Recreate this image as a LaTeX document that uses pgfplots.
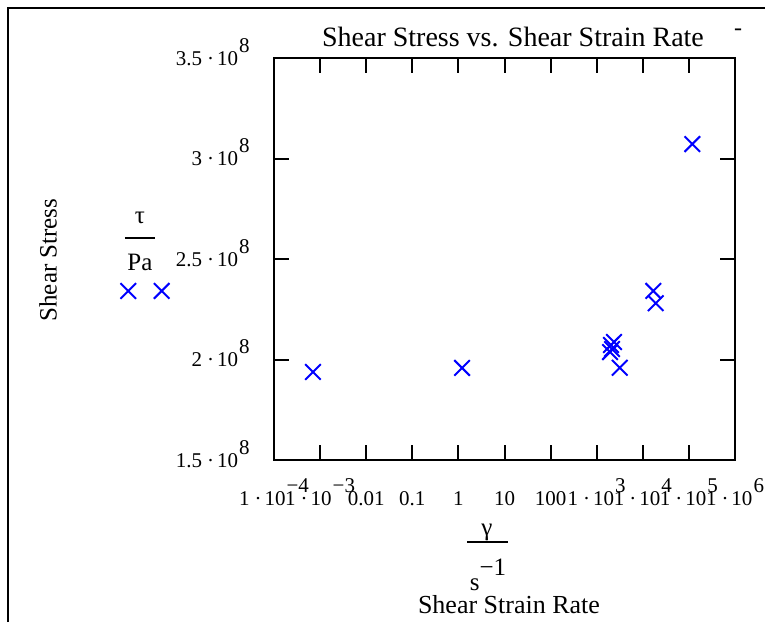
\documentclass[border=0pt]{standalone}
\usepackage{fontspec}
\setmainfont{Liberation Serif}
\usepackage{pgfplots}
\pgfplotsset{compat=1.18}
\newcommand{\sci}[2]{#1\kern2.5pt·\kern1.5pt10\kern0.5pt\raisebox{0.6em}{#2}}
\begin{document}
\begin{tikzpicture}
\useasboundingbox (-137pt,-81pt) rectangle (245.5pt,230pt);
\draw[line width=1pt] (-133pt,-81pt) -- (-133pt,226pt) -- (245.5pt,226pt);
\begin{axis}[
  at={(0pt,0pt)}, anchor=south west,
  scale only axis, width=230.5pt, height=201pt,
  xmode=log, xmin=1e-4, xmax=1e6, ymin=1.5e8, ymax=3.5e8,
  xminorticks=false,
  xtick={1e-4,1e-3,1e-2,1e-1,1,10,100,1e3,1e4,1e5,1e6},
  xticklabels={\sci{1}{−4},\sci{1}{−3},0.01,0.1,1,10,100,\sci{1}{3},\sci{1}{4},\sci{1}{5},\sci{1}{6}},
  ytick={1.5e8,2e8,2.5e8,3e8,3.5e8},
  yticklabels={\sci{1.5}{8},\sci{2}{8},\sci{2.5}{8},\sci{3}{8},\sci{3.5}{8}},
  scaled y ticks=false,
  tick align=inside, major tick length=7.5pt,
  axis line style={line width=1pt},
  every tick/.style={black, line width=1pt},
  xticklabel style={font=\fontsize{10.5}{12}\selectfont, anchor=base, inner sep=0pt, yshift=-22.5pt},
  yticklabel style={font=\fontsize{10.5}{12}\selectfont, anchor=base east, inner sep=0pt, xshift=-12pt, yshift=-3.5pt},
  clip=false,
]
\addplot[only marks, mark=x, mark size=5.5pt, color={rgb,255:red,0;green,0;blue,255}, mark options={line width=1pt}] coordinates {
  (6.9e-8,2.341e8) (3.66e-7,2.341e8)
  (7.0e-4,1.938e8) (1.2,1.958e8)
  (2042,2.072e8) (2371,2.087e8) (2148,2.052e8) (1945,2.037e8)
  (3155,1.959e8)
  (16900,2.341e8) (19050,2.280e8)
  (118600,3.072e8)
};
\end{axis}
\node[font=\fontsize{14}{16}\selectfont] at (119.5pt,211.5pt) {Shear Stress vs. Shear Strain Rate};
\node[font=\fontsize{12}{14}\selectfont] at (232pt,214pt) {-};
\node[font=\fontsize{12.5}{14}\selectfont, rotate=90] at (-113pt,100pt) {Shear Stress};
\node[font=\fontsize{12.5}{14}\selectfont] at (-67pt,121pt) {τ};
\draw[line width=1pt] (-74.5pt,111pt) -- (-59.5pt,111pt);
\node[font=\fontsize{12.5}{14}\selectfont] at (-67pt,99pt) {Pa};
\node[font=\fontsize{12.5}{14}\selectfont] at (106.5pt,-36pt) {γ};
\draw[line width=1pt] (96.5pt,-41pt) -- (117pt,-41pt);
\node[font=\fontsize{12.5}{14}\selectfont] at (107pt,-57.5pt) {s\raisebox{0.6em}{−1}};
\node[font=\fontsize{13}{15}\selectfont] at (117.5pt,-72.5pt) {Shear Strain Rate};
\end{tikzpicture}
\end{document}
